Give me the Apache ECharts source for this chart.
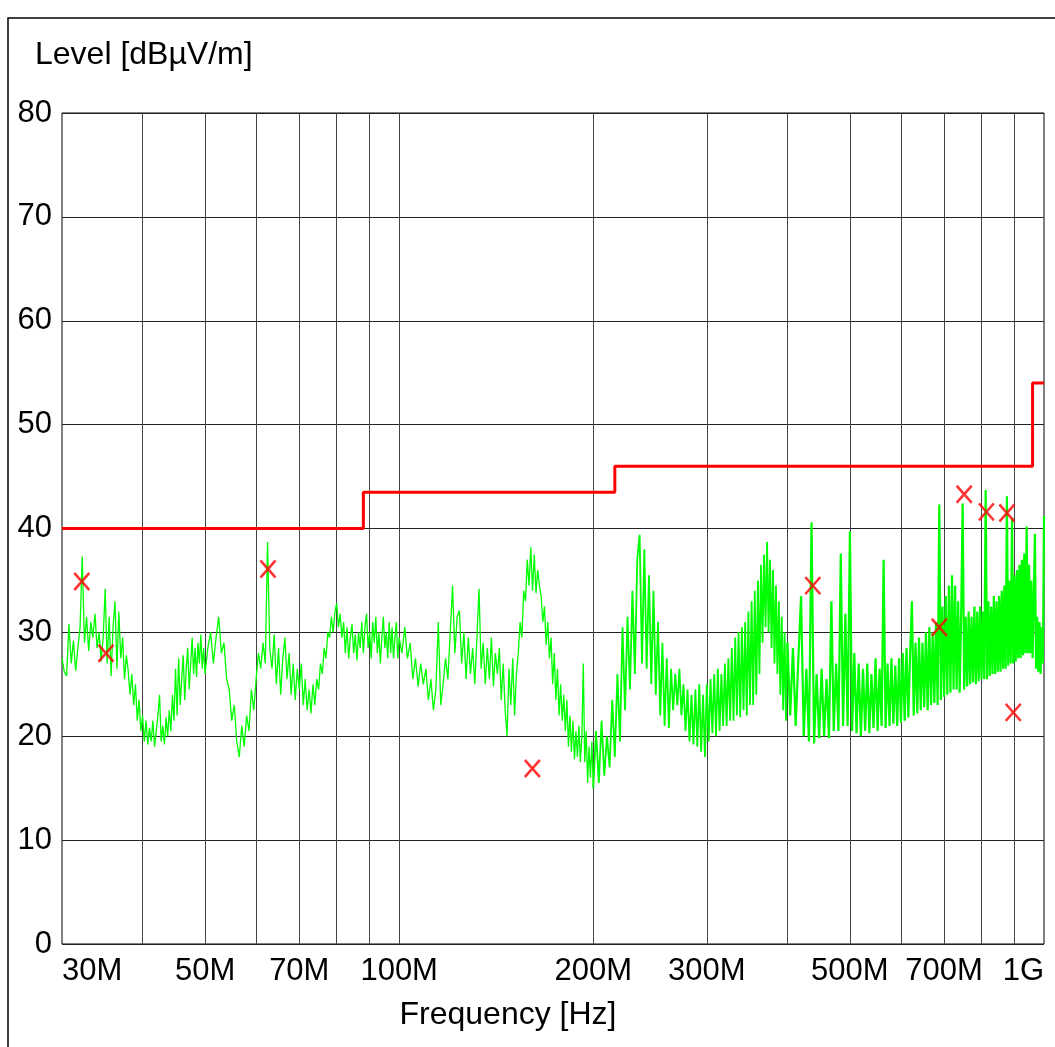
<!DOCTYPE html>
<html><head><meta charset="utf-8">
<script src="https://cdn.jsdelivr.net/npm/echarts@6/dist/echarts.min.js"></script>
<style>html,body{margin:0;padding:0;background:#fff;}#c{width:1055px;height:1047px;}</style>
</head><body><div id="c"></div>
<script>
// ---- data: measured trace (level in dBµV/m), swept in uniform MHz steps per band ----
const sweep1Start = 30,  sweep1Step = 0.25;
const sweep1Levels = [27.5,26.2,25.8,30.8, 27.0,29.2,26.3,28.5, 30.5,37.3,29.0,31.5, 28.2,31.0,29.5,31.8, 28.5,30.0,27.2,29.5,
  34.2,27.0,31.5,25.8, 30.5,33.0,26.5,32.0, 27.5,29.5,25.5,27.8, 26.3,24.0,26.0,23.0, 25.0,21.5,23.5,20.5,
  22.0,19.5,21.5,19.2, 20.8,19.5,21.5,19.0, 20.5,22.0,24.0,19.5, 21.0,19.2,21.8,20.0, 22.5,20.5,24.0,21.5,
  26.5,22.0,27.5,23.0, 25.5,27.8,23.5,26.5, 28.5,24.5,27.0,29.5, 26.0,28.5,25.7,29.0, 27.0,29.8,26.5,28.5, 26.0];
const sweep2Start = 50.5, sweep2Step = 0.5;
const sweep2Levels = [28.5,30.0,27.0,29.5, 31.5,28.0,29.0,25.5, 24.5,21.5,23.0,19.5, 18.0,21.0,19.0,22.0, 20.5,24.5,22.5,25.5,
  28.0,26.5,29.0,27.0, 38.7,28.5,26.5,29.8, 25.0,28.5,24.0,27.5, 29.5,25.5,28.0,24.0, 27.0,23.5,26.5,24.5,
  27.0,23.0,25.5,22.5, 24.5,22.2,25.0,23.0, 25.5,24.5,27.0,26.0, 28.5,27.5,30.0,29.5, 31.5,30.0,32.0,32.8,
  30.5,31.8,29.5,31.0, 28.0,30.5,27.5,29.5, 30.8,28.0,29.8,27.3, 30.0,28.5,31.0,28.0, 30.5,31.8,28.5,30.0,
  27.5,31.0,29.0,31.5, 28.0,30.0,27.0,29.5, 31.5,28.5,30.0,27.5, 31.0,28.0,30.5,27.5, 29.5,31.0,27.5,29.5];
const sweep3Start = 101, sweep3Step = 1;
const sweep3Levels = [28.0,30.5,27.5,29.0, 25.5,27.5,24.8,27.0, 25.0,26.5,23.5,25.5, 22.5,24.5,31.0,23.0, 25.0,27.5,25.5,30.0,
  34.5,28.0,31.5,32.1, 27.0,30.0,25.5,29.5, 26.0,28.5,25.0,29.5, 34.2,26.5,29.0,25.0, 28.5,25.5,29.5,24.8,
  28.0,26.0,28.5,23.5, 27.0,22.5,20.0,26.5, 23.0,27.5,22.0,26.0, 28.0,31.0,29.5,34.0, 33.0,37.0,34.5,38.2,
  34.0,37.5,33.8,36.0, 34.5,33.5,31.0,32.5, 28.8,31.0,27.5,29.5, 25.0,28.0,23.5,26.5, 22.0,25.0,21.5,24.0,
  20.5,23.5,19.0,22.0, 18.5,21.5,17.8,20.5, 18.0,21.0,17.5,20.0, 27.0,17.5,20.5,15.5, 19.0,16.0,19.5,15.0];
const sweep4Start = 202, sweep4Step = 2;
const sweep4Levels = [20.5,15.5,21.5,16.2, 20.0,17.0,23.5,18.0, 26.0,19.5,30.5,22.5, 31.5,24.5,34.0,26.0, 37.0,39.4,27.0,38.0,
  26.5,35.5,25.0,34.0, 24.0,31.0,22.0,29.0, 21.0,27.5,20.8,26.5, 22.5,26.0,23.0,26.5, 22.0,25.0,20.5,24.5,
  19.5,24.0,19.2,24.5, 19.0,25.0,18.5,24.0, 18.0,25.0,19.5,25.5, 20.3,26.0,20.0,26.5, 20.5,26.0,21.0,27.0,
  21.0,27.5,21.5,28.5, 21.5,29.5,22.0,30.0, 21.8,30.5,22.5,31.0, 22.0,32.0,23.0,33.0, 23.0,34.0,24.0,35.0,
  26.0,36.5,29.0,37.5, 30.5,38.7,30.0,37.0, 28.5,36.0,27.0,34.5, 26.0,33.0,24.0,31.5, 22.5,30.0,21.5,29.0];
const sweep5Start = 404, sweep5Step = 4;
const sweep5Levels = [22.0,28.5,21.0,27.5, 33.5,20.0,26.5,19.5, 40.6,19.3,26.0,19.8, 26.5,20.0,25.5,19.8, 33.0,20.5,27.0,20.5,
  37.6,21.0,31.8,21.0, 39.7,20.5,28.0,20.3, 27.0,20.0,26.5,20.5, 27.0,20.3,26.0,20.8, 27.5,20.5,26.5,21.0,
  37.0,20.8,27.0,21.0, 27.5,21.2,26.8,21.0, 27.5,21.3,28.0,21.5, 28.5,21.8,28.0,33.0, 22.0,29.0,22.2,29.5,
  22.5,29.0,22.8,30.0, 22.5,30.5,23.0,30.0, 23.2,31.0,23.0,42.3, 23.5,32.5,23.8,33.5, 24.0,34.5,24.2,35.5,
  24.5,34.5,24.5,33.0, 24.2,32.0,42.4,24.5, 31.5,24.8,32.0,25.0, 31.5,25.2,32.5,25.0, 32.0,25.3,32.5,25.5,
  32.0,25.5,43.7,25.5, 33.0,25.8,32.5,26.0, 33.5,26.0,33.0,26.2, 33.5,26.2,34.0,26.5, 34.5,26.5,43.1,26.8,
  35.0,27.0,41.0,27.0, 35.5,27.2,36.0,27.5, 36.5,27.5,37.0,27.8, 37.6,28.0,40.2,28.0, 36.5,28.0,35.0,27.5,
  33.0,39.5,26.5,31.5, 26.2,31.0,26.0,30.5, 27.0,41.2];
const limitMHz   = [30, 88, 88, 216, 216, 960, 960, 1000];
const limitLevel = [40, 40, 43.5, 43.5, 46, 46, 54, 54];
const markerMHz   = [32.2, 35.1, 62.6, 160.9, 438, 688, 752, 814, 876, 896];
const markerLevel = [34.9, 28.0, 36.1, 16.9, 34.5, 30.5, 43.3, 41.6, 41.5, 22.3];
const gridMHz = [40,50,60,70,80,90,100,200,300,400,500,600,700,800,900];
const tickMHz = [30,50,70,100,200,300,500,700,1000];
const tickText = ['30M','50M','70M','100M','200M','300M','500M','700M','1G'];

// ---- build tables for the library ----
function sweep(start, step, levels){ return levels.map((v,i)=>[+(start + i*step).toFixed(3), v]); }
const traceLow = [].concat(
  sweep(sweep1Start, sweep1Step, sweep1Levels),
  sweep(sweep2Start, sweep2Step, sweep2Levels),
  sweep(sweep3Start, sweep3Step, sweep3Levels));
const traceMid = [traceLow[traceLow.length-1]].concat(sweep(sweep4Start, sweep4Step, sweep4Levels));
const traceHigh = [traceMid[traceMid.length-1]].concat(sweep(sweep5Start, sweep5Step, sweep5Levels));
const limit = limitMHz.map((f,i)=>[f, limitLevel[i]]);
const markers = markerMHz.map((f,i)=>[f, markerLevel[i]]);

const FONT = '"Liberation Sans", Arial, Helvetica, sans-serif';
const chart = echarts.init(document.getElementById('c'), null, {renderer:'canvas'});
chart.setOption({
  animation:false,
  backgroundColor:'#fff',
  grid:{left:62,right:11,top:113,bottom:103,show:true,borderColor:'#000',borderWidth:1,backgroundColor:'transparent'},
  xAxis:{type:'log',logBase:10,min:30,max:1000,axisLine:{show:false},axisTick:{show:false},axisLabel:{show:false},splitLine:{show:false}},
  yAxis:{type:'value',min:0,max:80,interval:10,axisLine:{show:false},axisTick:{show:false},
    axisLabel:{fontSize:31,color:'#000',fontFamily:FONT,margin:10},
    splitLine:{lineStyle:{color:'#222',width:1}}},
  series:[
    {type:'line',data:[],silent:true,
     markLine:{silent:true,symbol:['none','none'],z:1,label:{show:false},animation:false,
       lineStyle:{color:'#444',width:1,type:'solid'},emphasis:{disabled:true},
       data:gridMHz.map(v=>({xAxis:v}))}},
    {type:'line',data:traceLow,showSymbol:false,silent:true,z:2,lineStyle:{color:'#00ff00',width:1.3}},
    {type:'line',data:traceMid,showSymbol:false,silent:true,z:2,lineStyle:{color:'#00ff00',width:1.8}},
    {type:'line',data:traceHigh,showSymbol:false,silent:true,z:2,lineStyle:{color:'#00ff00',width:2.2}},
    {type:'line',data:limit,showSymbol:false,silent:true,z:3,lineStyle:{color:'#ff0000',width:3}},
    {type:'scatter',data:markers,silent:true,z:4,symbol:'path://M0,0L14,16M14,0L0,16',symbolSize:[15,17],
     itemStyle:{color:'rgba(0,0,0,0)',borderColor:'#ff0000',borderWidth:2.6}}
  ]
});
const y0 = chart.convertToPixel({yAxisIndex:0}, 0);
const g = [];
tickMHz.forEach((v,i)=>{
  const x = chart.convertToPixel({xAxisIndex:0}, v);
  g.push({type:'text',x:x,y:y0+27,silent:true,style:{text:tickText[i],fontSize:31,fontFamily:FONT,fill:'#000',
    align:i===0?'left':(i===tickMHz.length-1?'right':'center'),verticalAlign:'middle'}});
});
g.push({type:'text',x:35,y:55,silent:true,style:{text:'Level [dBµV/m]',fontSize:32,fontFamily:FONT,fill:'#000',align:'left',verticalAlign:'middle'}});
g.push({type:'text',x:508,y:1015,silent:true,style:{text:'Frequency [Hz]',fontSize:32,fontFamily:FONT,fill:'#000',align:'center',verticalAlign:'middle'}});
g.push({type:'rect',silent:true,z:-1,shape:{x:8,y:18,width:1100,height:1100},style:{fill:null,stroke:'#000',lineWidth:1.5}});
chart.setOption({graphic:g});
</script></body></html>
